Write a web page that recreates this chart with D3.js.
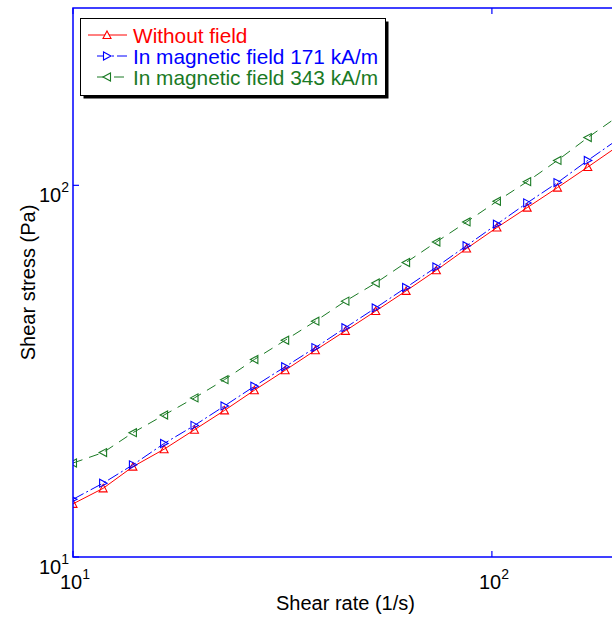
<!DOCTYPE html>
<html>
<head>
<meta charset="utf-8">
<script src="https://cdn.jsdelivr.net/npm/d3@7"></script>
<style>
  html, body { margin: 0; padding: 0; background: #fff; }
  svg { display: block; font-family: "Liberation Sans", Arial, Helvetica, sans-serif; }
</style>
</head>
<body>
<svg id="chart" width="612" height="618"></svg>
<script>
// Shear rate (1/s) at which each stress was measured
const shearRate = [10, 11.8, 13.9, 16.5, 19.5, 23.0, 27.1, 32.1, 37.9, 44.7,
                   52.8, 62.4, 73.7, 87.0, 102.8, 121.4, 143.4, 169.4, 200];

// Shear stress (Pa) for each condition
const stressNoField = [13.9, 15.3, 17.5, 19.5, 22.0, 24.8, 28.1, 31.8, 36.0, 40.6,
                       45.9, 52.0, 59.1, 67.6, 77.0, 87.1, 98.6, 112.0, 127.5];
const stress171 = [14.3, 15.8, 17.7, 20.2, 22.6, 25.5, 28.8, 32.5, 36.6, 41.4,
                   46.8, 53.1, 60.3, 68.8, 78.6, 89.7, 101.7, 116.7, 133.0];
const stress343 = [17.9, 19.1, 21.6, 24.1, 26.8, 30.0, 34.0, 38.3, 43.1, 48.8,
                   54.6, 62.0, 70.4, 79.7, 90.6, 102.3, 116.7, 134.4, 153.3];

const seriesNames = ["Without field", "In magnetic field 171 kA/m", "In magnetic field 343 kA/m"];

// Axis limits and tick positions
const xDomain = [10, 200];
const yDomain = [10, 300];
const xTicks = [10, 100];
const yTicks = [10, 100];

(function drawChart() {
  const svg = d3.select("#chart");
  const pLeft = 73, pRight = 618, pTop = 8, pBottom = 557;

  const x = d3.scaleLog().domain(xDomain).range([pLeft, pRight]);
  const y = d3.scaleLog().domain(yDomain).range([pBottom, pTop]);

  const axisColor = "#0000ff";
  const fontSize = 20;

  svg.append("defs").append("clipPath").attr("id", "plotClip")
    .append("rect").attr("x", pLeft).attr("y", pTop)
    .attr("width", pRight - pLeft).attr("height", pBottom - pTop);

  // Series styles: colour, dash pattern, marker direction, legend sample start
  const series = [
    { name: seriesNames[0], values: stressNoField, color: "#ff0000", dash: null, marker: "up", sampleX: 88 },
    { name: seriesNames[1], values: stress171, color: "#0000ff", dash: "12,3,2,3", marker: "right", sampleX: 97 },
    { name: seriesNames[2], values: stress343, color: "#1a7a24", dash: "10,7", marker: "left", sampleX: 97 }
  ];

  function triPath(dir) {
    const s = 4;
    if (dir === "up") return `M0,${-s}L${s},${s - 0.5}L${-s},${s - 0.5}Z`;
    if (dir === "right") return `M${s},0L${-s + 0.5},${-s}L${-s + 0.5},${s}Z`;
    return `M${-s},0L${s - 0.5},${-s}L${s - 0.5},${s}Z`;
  }

  // Data lines and markers
  const plot = svg.append("g").attr("clip-path", "url(#plotClip)");
  const line = d3.line().x((d, i) => x(shearRate[i])).y(d => y(d));

  series.forEach(s => {
    plot.append("path")
      .attr("d", line(s.values))
      .attr("fill", "none")
      .attr("stroke", s.color)
      .attr("stroke-width", 1)
      .attr("stroke-dasharray", s.dash);
    plot.selectAll(null).data(s.values).enter().append("path")
      .attr("d", triPath(s.marker))
      .attr("transform", (d, i) => `translate(${x(shearRate[i])},${y(d)})`)
      .attr("fill", "none")
      .attr("stroke", s.color)
      .attr("stroke-width", 1.1);
  });

  // Axes box
  const axes = svg.append("g").attr("stroke", axisColor).attr("fill", "none");
  axes.append("rect")
    .attr("x", pLeft).attr("y", pTop)
    .attr("width", pRight - pLeft).attr("height", pBottom - pTop)
    .attr("stroke-width", 1.5);

  const tickLen = 6;
  xTicks.forEach(t => {
    axes.append("line").attr("x1", x(t)).attr("x2", x(t))
      .attr("y1", pBottom).attr("y2", pBottom - tickLen).attr("stroke-width", 1.2);
    axes.append("line").attr("x1", x(t)).attr("x2", x(t))
      .attr("y1", pTop).attr("y2", pTop + tickLen).attr("stroke-width", 1.2);
  });
  yTicks.forEach(t => {
    axes.append("line").attr("x1", pLeft).attr("x2", pLeft + tickLen)
      .attr("y1", y(t)).attr("y2", y(t)).attr("stroke-width", 1.2);
    axes.append("line").attr("x1", pRight).attr("x2", pRight - tickLen)
      .attr("y1", y(t)).attr("y2", y(t)).attr("stroke-width", 1.2);
  });

  // Tick labels as powers of ten
  function powLabel(sel, v) {
    const e = Math.round(Math.log10(v));
    sel.append("tspan").text("10");
    sel.append("tspan").attr("dy", -10).attr("font-size", 14).text(e);
  }
  xTicks.forEach(t => {
    const txt = svg.append("text")
      .attr("x", x(t) + 2).attr("y", 589)
      .attr("text-anchor", "middle")
      .attr("font-size", fontSize).attr("fill", "#000");
    powLabel(txt, t);
  });
  yTicks.forEach(t => {
    const txt = svg.append("text")
      .attr("x", pLeft - 4).attr("y", y(t) + 17)
      .attr("text-anchor", "end")
      .attr("font-size", fontSize).attr("fill", "#000");
    powLabel(txt, t);
  });

  // Axis titles
  svg.append("text")
    .attr("x", (pLeft + pRight) / 2).attr("y", 610)
    .attr("text-anchor", "middle")
    .attr("font-size", fontSize).attr("fill", "#000")
    .text("Shear rate (1/s)");
  svg.append("text")
    .attr("transform", `translate(35,${(pTop + pBottom) / 2}) rotate(-90)`)
    .attr("text-anchor", "middle")
    .attr("font-size", fontSize).attr("fill", "#000")
    .text("Shear stress (Pa)");

  // Legend with drop shadow
  const lg = svg.append("g");
  const lx = 80.5, ly = 18.5, lw = 305, lh = 77;
  lg.append("rect").attr("x", lx + 3).attr("y", ly + 3).attr("width", lw).attr("height", lh)
    .attr("fill", "#000");
  lg.append("rect").attr("x", lx).attr("y", ly).attr("width", lw).attr("height", lh)
    .attr("fill", "#fff").attr("stroke", "#000").attr("stroke-width", 1);

  series.forEach((s, i) => {
    const cy = 35 + i * 21;
    lg.append("line")
      .attr("x1", s.sampleX).attr("x2", 127).attr("y1", cy).attr("y2", cy)
      .attr("stroke", s.color).attr("stroke-width", 1)
      .attr("stroke-dasharray", s.dash);
    lg.append("path").attr("d", triPath(s.marker))
      .attr("transform", `translate(107,${cy})`)
      .attr("fill", "#fff").attr("stroke", s.color).attr("stroke-width", 1.1);
    lg.append("text")
      .attr("x", 133).attr("y", cy + 7.5)
      .attr("font-size", 20.8).attr("fill", s.color)
      .text(s.name);
  });
})();
</script>
</body>
</html>
